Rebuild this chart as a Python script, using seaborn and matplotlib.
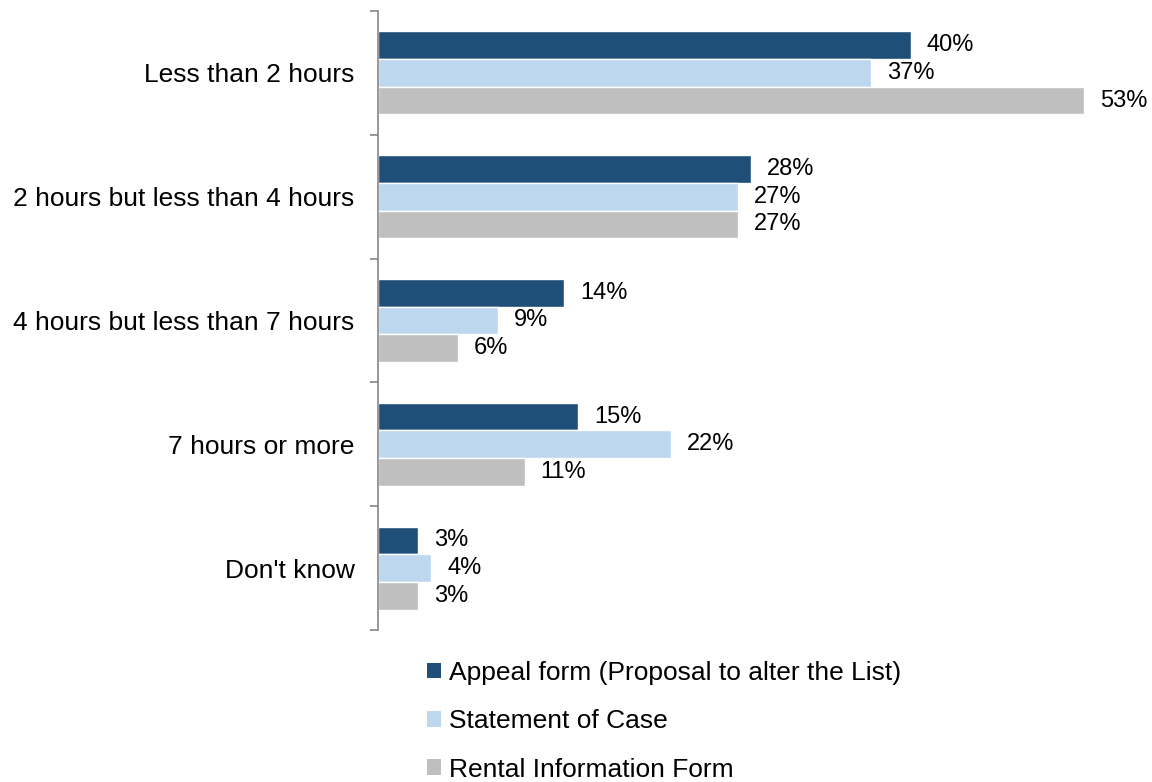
import pandas as pd
import matplotlib
matplotlib.use('Agg')
import matplotlib.pyplot as plt
import seaborn as sns
from matplotlib.patches import Patch

# Data
categories = ['Less than 2 hours', '2 hours but less than 4 hours',
              '4 hours but less than 7 hours', '7 hours or more', "Don't know"]
series = ['Appeal form (Proposal to alter the List)', 'Statement of Case',
          'Rental Information Form']
appeal_form = [40, 28, 14, 15, 3]
statement_of_case = [37, 27, 9, 22, 4]
rental_info_form = [53, 27, 6, 11, 3]

colors = ['#1F4E79', '#BDD7EE', '#BFBFBF']

rows = []
for name, vals in zip(series, [appeal_form, statement_of_case, rental_info_form]):
    for cat, v in zip(categories, vals):
        rows.append({'category': cat, 'series': name, 'value': v})
df = pd.DataFrame(rows)

sns.set_style('white')
plt.rcParams['font.family'] = ['Liberation Sans', 'DejaVu Sans']
plt.rcParams['text.color'] = 'black'
plt.rcParams['ytick.color'] = 'black'

fig = plt.figure(figsize=(11.52, 7.82), dpi=100)
W, H = 1152, 782
ax = fig.add_axes([378 / W, 1 - 630 / H, (1140 - 378) / W, (630 - 11) / H])

sns.barplot(data=df, y='category', x='value', hue='series', order=categories,
            hue_order=series, palette=colors, orient='h', width=0.67,
            saturation=1, legend=False, ax=ax)

for cont in ax.containers:
    ax.bar_label(cont, fmt='%d%%', padding=11.5, fontsize=17, color='black')

ax.set_xlim(0, (1140 - 378) / 13.32)
ax.set_ylim(4.5, -0.5)
ax.set_xlabel('')
ax.set_ylabel('')
ax.set_xticks([])

ax.tick_params(axis='y', which='major', left=False, length=0, pad=17,
               labelsize=19, labelcolor='black')
ax.set_yticks([i - 0.5 for i in range(len(categories) + 1)], minor=True)
ax.tick_params(axis='y', which='minor', left=True, length=6,
               color='#868686', width=1.2)

for side in ['top', 'right', 'bottom']:
    ax.spines[side].set_visible(False)
ax.spines['left'].set_color('#868686')
ax.spines['left'].set_linewidth(1.2)

handles = [Patch(facecolor=c, edgecolor='none') for c in colors]
fig.legend(handles, series, loc='upper left', bbox_to_anchor=(427 / W, 1 - 661 / H),
           frameon=False, fontsize=19, handlelength=0.53, handleheight=0.53,
           handletextpad=0.3, labelspacing=0.92, borderaxespad=0, borderpad=0)

fig.savefig('out.png', dpi=100)
